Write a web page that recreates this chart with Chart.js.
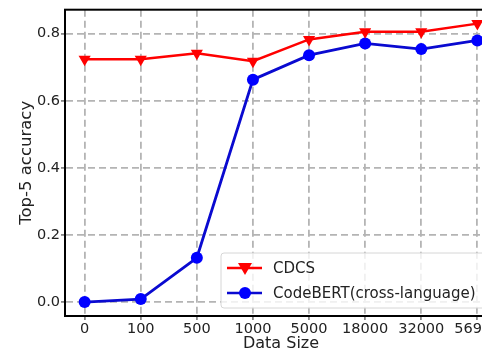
<!doctype html>
<html lang="en">
<head>
  <meta charset="utf-8">
  <script src="https://cdn.jsdelivr.net/npm/chart.js@4.4.1/dist/chart.umd.min.js"></script>
  <title>Top-5 accuracy vs data size</title>
  <style>
    html, body { margin: 0; padding: 0; background: #fff; overflow: hidden; }
    #wrap { width: 482px; height: 350px; overflow: hidden; }
  </style>
</head>
<body>
  <div id="wrap">
    <canvas id="myChart" width="520" height="350"></canvas>
  </div>
  <script>
    // data
    const sizes = ['0', '100', '500', '1000', '5000', '18000', '32000', '56900'];
    const cdcs = [0.724, 0.724, 0.742, 0.718, 0.783, 0.806, 0.806, 0.830];
    const codebert = [0.000, 0.009, 0.132, 0.663, 0.736, 0.771, 0.754, 0.780];
    const yTicks = [0, 0.2, 0.4, 0.6, 0.8];

    const FONT = 'DejaVu Sans';
    const toPoints = arr => arr.map((v, i) => ({ x: i, y: v }));

    // black frame around the plot area + matplotlib-like legend box
    const framePlugin = {
      id: 'frame',
      afterDatasetsDraw(chart) {
        const { ctx, chartArea: a } = chart;
        ctx.save();
        ctx.strokeStyle = '#000';
        ctx.lineWidth = 2;
        ctx.strokeRect(a.left, a.top, a.right - a.left, a.bottom - a.top);

        // legend
        const x0 = 221, y0 = 253, w = 268, h = 55;
        ctx.fillStyle = 'rgba(255,255,255,0.8)';
        ctx.strokeStyle = '#d6d6d6';
        ctx.lineWidth = 1;
        ctx.beginPath();
        ctx.roundRect(x0, y0, w, h, 3);
        ctx.fill();
        ctx.stroke();

        const items = [
          { label: 'CDCS', color: 'red', marker: 'tri', y: 268 },
          { label: 'CodeBERT(cross-language)', color: '#0a0ad0', marker: 'circle', y: 293 }
        ];
        items.forEach(it => {
          ctx.strokeStyle = it.color;
          ctx.lineWidth = 2.5;
          ctx.beginPath();
          ctx.moveTo(227, it.y);
          ctx.lineTo(262, it.y);
          ctx.stroke();
          ctx.fillStyle = it.marker === 'tri' ? 'red' : 'blue';
          ctx.beginPath();
          if (it.marker === 'tri') {
            ctx.moveTo(245 - 7, it.y - 5);
            ctx.lineTo(245 + 7, it.y - 5);
            ctx.lineTo(245, it.y + 7);
            ctx.closePath();
          } else {
            ctx.arc(245, it.y, 6, 0, Math.PI * 2);
          }
          ctx.fill();
          ctx.fillStyle = '#222';
          ctx.font = '15px "' + FONT + '"';
          ctx.textBaseline = 'middle';
          ctx.fillText(it.label, 273, it.y + 1);
        });
        ctx.restore();
      }
    };

    const gridOpts = {
      color: '#b4b4b4',
      lineWidth: 1.8,
      tickLength: 4,
      tickColor: '#888',
      tickBorderDash: []
    };

    const config = {
      type: 'line',
      data: {
        datasets: [{
          label: 'CDCS',
          data: toPoints(cdcs),
          borderColor: 'red',
          backgroundColor: 'red',
          borderWidth: 2.5,
          pointStyle: 'triangle',
          rotation: 180,
          pointRadius: 7,
          pointBorderWidth: 0,
          tension: 0
        }, {
          label: 'CodeBERT(cross-language)',
          data: toPoints(codebert),
          borderColor: '#0a0ad0',
          backgroundColor: 'blue',
          borderWidth: 2.8,
          pointStyle: 'circle',
          pointRadius: 6,
          pointBorderWidth: 0,
          tension: 0
        }]
      },
      options: {
        responsive: false,
        animation: false,
        layout: { padding: { top: 7, right: 23, left: 0, bottom: 0 } },
        plugins: {
          legend: { display: false },
          tooltip: { enabled: false }
        },
        scales: {
          x: {
            type: 'linear',
            min: -0.35,
            max: 7.35,
            afterBuildTicks: s => { s.ticks = sizes.map((_, i) => ({ value: i })); },
            afterFit: s => { s.height = 34; },
            ticks: {
              callback: v => sizes[v],
              color: '#222',
              font: { family: FONT, size: 14.5 },
              padding: 1,
              maxRotation: 0,
              autoSkip: false
            },
            grid: gridOpts,
            border: { display: true, color: '#000', width: 2, dash: [7, 4] },
            title: {
              display: true,
              text: 'Data Size',
              color: '#222',
              font: { family: FONT, size: 16, lineHeight: 1 },
              padding: { top: 0, bottom: -2 }
            }
          },
          y: {
            min: -0.0415,
            max: 0.8715,
            afterBuildTicks: s => { s.ticks = yTicks.map(v => ({ value: v })); },
            afterFit: s => { s.width = 65; },
            ticks: {
              callback: v => v.toFixed(1),
              color: '#222',
              font: { family: FONT, size: 14.5 },
              padding: 1
            },
            grid: gridOpts,
            border: { display: true, color: '#000', width: 2, dash: [7, 4] },
            title: {
              display: true,
              text: 'Top-5 accuracy',
              color: '#222',
              font: { family: FONT, size: 16.5 },
              padding: { top: 17, bottom: 0 }
            }
          }
        }
      },
      plugins: [framePlugin]
    };

    const ctx = document.getElementById('myChart').getContext('2d');
    const myChart = new Chart(ctx, config);
  </script>
</body>
</html>
